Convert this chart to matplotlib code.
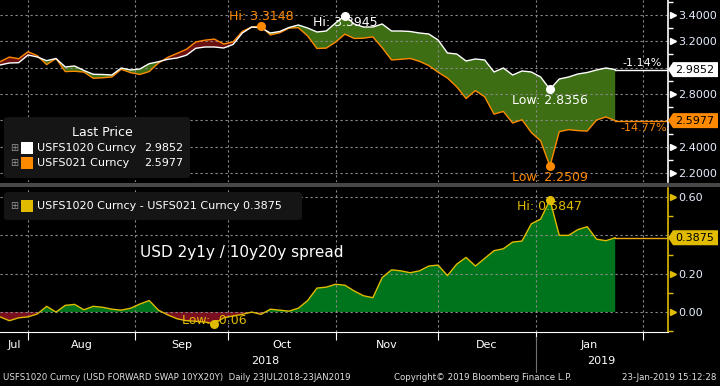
import matplotlib
matplotlib.use('Agg')
import matplotlib.pyplot as plt
from matplotlib.patches import Polygon, Rectangle, FancyBboxPatch
from matplotlib.lines import Line2D
import numpy as np

# indice de pregoes desde 23/07/2018 (um ponto a cada dois pregoes)
dias = list(range(1, 134, 2))

# USFS1020 Curncy (10y20y)
usfs1020 = [3.0203, 3.0355, 3.0378, 3.0963, 3.0811, 3.0530, 3.0697, 3.0052, 3.0128, 2.9786,
            2.9497, 2.9482, 2.9444, 2.9976, 2.9824, 2.9900, 3.0302, 3.0454, 3.0636, 3.0735,
            3.0948, 3.1472, 3.1570, 3.1570, 3.1494, 3.1760, 3.2633, 3.3089, 3.3028, 3.2633,
            3.2747, 3.3051, 3.3241, 3.3013, 3.2709, 3.2785, 3.3393, 3.3945, 3.3317, 3.3089,
            3.3089, 3.3317, 3.2785, 3.2785, 3.2747, 3.2633, 3.2557, 3.2102, 3.1115, 3.1039,
            3.0507, 3.0659, 3.0583, 2.9672, 2.9976, 2.9444, 2.9748, 2.9672, 2.9292, 2.8356,
            2.9140, 2.9292, 2.9520, 2.9634, 2.9824, 2.9976, 2.9852]

# USFS021 Curncy (2y1y)
usfs021 = [3.0453, 3.0805, 3.0678, 3.1213, 3.0911, 3.0230, 3.0697, 2.9702, 2.9728, 2.9666,
           2.9197, 2.9232, 2.9294, 2.9876, 2.9624, 2.9480, 2.9702, 3.0354, 3.0786, 3.1085,
           3.1398, 3.1952, 3.2090, 3.2170, 3.1794, 3.1960, 3.2753, 3.3089, 3.3148, 3.2483,
           3.2647, 3.3001, 3.3041, 3.2413, 3.1459, 3.1485, 3.1943, 3.2545, 3.2217, 3.2239,
           3.2339, 3.1517, 3.0585, 3.0635, 3.0697, 3.0483, 3.0157, 2.9652, 2.9215, 2.8539,
           2.7657, 2.8259, 2.7783, 2.6472, 2.6676, 2.5794, 2.6048, 2.5072, 2.4442, 2.2509,
           2.5140, 2.5292, 2.5220, 2.5184, 2.6024, 2.6256, 2.5977]

meses = ['Jul', 'Aug', 'Sep', 'Oct', 'Nov', 'Dec', 'Jan']
meio_mes = [4, 18.5, 40, 61.5, 84, 105.5, 127.5]
inicio_mes = [7, 30, 50, 73, 95, 116, 139]
anos = ['2018', '2019']
pos_anos = [58, 130]

variacao = ['-1.14%', '-14.77%']

# cores
laranja = '#ff8a00'
amarelo = '#e0bb00'
verde_sup = '#3d6e14'
vermelho_sup = '#6a1010'
verde_inf = '#00741c'
vermelho_inf = '#7a0f1f'
cor_grade = '#8c8c8c'
cor_rotulo = '#e8eeff'

W_PX, H_PX = 720, 386
x_min, x_max = 0.99, 144.33

w = np.array(usfs1020)
o = np.array(usfs021)
spread = w - o
x = np.array(dias)


def fx(px):
    return px / W_PX


def fy(py):
    return 1 - py / H_PX


fig = plt.figure(figsize=(7.2, 3.86), dpi=100, facecolor='black')
ax1 = fig.add_axes([0, fy(182), fx(668), 182 / H_PX])
ax2 = fig.add_axes([0, fy(332), fx(668), 144 / H_PX])


def estilo(ax, cor_eixo, ticks, rotulos, minor):
    ax.set_facecolor('black')
    for lado in ['left', 'top', 'bottom']:
        ax.spines[lado].set_visible(False)
    ax.spines['right'].set_color(cor_eixo)
    ax.spines['right'].set_linewidth(1.2)
    ax.yaxis.tick_right()
    ax.set_xlim(x_min, x_max)
    ax.set_xticks(inicio_mes)
    ax.set_yticks(ticks)
    ax.set_yticklabels(rotulos)
    ax.set_yticks(minor, minor=True)
    ax.grid(True, color=cor_grade, linestyle=(0, (2, 2.5)), linewidth=0.8)
    ax.tick_params(axis='y', which='major', length=0, pad=7.5, labelsize=8, labelcolor=cor_rotulo)
    ax.tick_params(axis='y', which='minor', length=3.5, color=cor_eixo, width=1)
    ax.tick_params(axis='x', which='both', length=0, labelbottom=False)
    marcados = [t for t, r in zip(ticks, rotulos) if r]
    ax.plot([1.007] * len(marcados), marcados, '>', ms=5, color=cor_eixo,
            transform=ax.get_yaxis_transform(), clip_on=False)


estilo(ax1, 'white', [2.2, 2.4, 2.6, 2.8, 3.0, 3.2, 3.4],
       ['2.2000', '2.4000', '', '2.8000', '', '3.2000', '3.4000'],
       [2.3, 2.5, 2.7, 2.9, 3.1, 3.3, 3.5])
ax1.set_ylim(2.1317, 3.5139)

estilo(ax2, amarelo, [0.0, 0.2, 0.4, 0.6], ['0.00', '0.20', '', '0.60'],
       [-0.1, 0.1, 0.3, 0.5])
ax2.set_ylim(-0.1039, 0.6468)
ax2.spines['bottom'].set_visible(True)
ax2.spines['bottom'].set_color('white')
ax2.tick_params(axis='x', which='major', length=6, color='white', direction='out')
ax2.set_xticks(meio_mes, minor=True)
ax2.set_xticklabels(meses, minor=True)
ax2.tick_params(axis='x', which='minor', length=0, pad=6, labelbottom=True,
                labelsize=8, labelcolor='white')

# painel de cima: as duas taxas
ax1.fill_between(x, w, o, where=w >= o, interpolate=True, color=verde_sup, lw=0)
ax1.fill_between(x, w, o, where=w < o, interpolate=True, color=vermelho_sup, lw=0)
ax1.plot(x, o, color=laranja, lw=1.0)
ax1.plot(x, w, color='white', lw=1.0)
ax1.plot([x[-1], x_max], [w[-1], w[-1]], color='white', lw=1)
ax1.plot([x[-1], x_max], [o[-1], o[-1]], color=laranja, lw=1)

# painel de baixo: spread
ax2.fill_between(x, spread, 0, where=spread >= 0, interpolate=True, color=verde_inf, lw=0)
ax2.fill_between(x, spread, 0, where=spread < 0, interpolate=True, color=vermelho_inf, lw=0)
ax2.plot(x, spread, color=amarelo, lw=1)
ax2.plot([x[-1], x_max], [spread[-1], spread[-1]], color='#e8a818', lw=1)


def marca(ax, i, v, texto, cor, dy):
    ax.plot(x[i], v, 'o', ms=5.5, color=cor, clip_on=False, zorder=5)
    ax.annotate(texto, (x[i], v), xytext=(0, dy), textcoords='offset points',
                ha='center', va='center', color=cor, fontsize=9, annotation_clip=False, zorder=6)


marca(ax1, np.argmax(o), o.max(), 'Hi: %.4f' % o.max(), laranja, 7)
marca(ax1, np.argmax(w), w.max(), 'Hi: %.4f' % w.max(), 'white', -5)
marca(ax1, np.argmin(w), w.min(), 'Low: %.4f' % w.min(), 'white', -8)
marca(ax1, np.argmin(o), o.min(), 'Low: %.4f' % o.min(), laranja, -8)
marca(ax2, np.argmax(spread), spread.max(), 'Hi: %.4f' % spread.max(), amarelo, -5)
marca(ax2, np.argmin(spread), spread.min(), 'Low: %.2f' % spread.min(), amarelo, 2)


# caixinhas do ultimo valor no eixo da direita
def caixa_valor(ax, valor, texto, cor_fundo):
    y = ax.transData.transform((x_min, valor))[1]
    pts = [(668, y), (673, y + 7.5), (718, y + 7.5), (718, y - 7.5), (673, y - 7.5)]
    fig.add_artist(Polygon([(px / W_PX, py / H_PX) for px, py in pts], closed=True,
                           transform=fig.transFigure, facecolor=cor_fundo, edgecolor='none'))
    fig.text(fx(695), y / H_PX, texto, ha='center', va='center', color='black', fontsize=8)
    return y


y_w = caixa_valor(ax1, w[-1], '%.4f' % w[-1], 'white')
y_o = caixa_valor(ax1, o[-1], '%.4f' % o[-1], laranja)
caixa_valor(ax2, spread[-1], '%.4f' % spread[-1], amarelo)
fig.text(fx(662), (y_w + 7) / H_PX, variacao[0], ha='right', va='center', color='white', fontsize=8)
fig.text(fx(667), (y_o - 7) / H_PX, variacao[1], ha='right', va='center', color=laranja, fontsize=8)

# barra separadora entre os paineis
fig.add_artist(Rectangle((0, fy(187)), 1, 4 / H_PX, transform=fig.transFigure,
                         facecolor='#484848', edgecolor='none'))


# legendas
def caixa(x0, y0, x1, y1):
    fig.add_artist(FancyBboxPatch((fx(x0), fy(y1)), (x1 - x0) / W_PX, (y1 - y0) / H_PX,
                                  boxstyle='round,pad=0,rounding_size=0.006',
                                  transform=fig.transFigure, facecolor='#151515',
                                  edgecolor='none'))


def linha_legenda(y, cor, texto, valor=None, xval=183):
    fig.text(fx(14), fy(y), '\u229e', ha='center', va='center', color='#909090', fontsize=7)
    fig.add_artist(Rectangle((fx(21), fy(y + 6)), 12 / W_PX, 12 / H_PX,
                             transform=fig.transFigure, facecolor=cor, edgecolor='none'))
    fig.text(fx(37), fy(y), texto, va='center', color='white', fontsize=8)
    if valor is not None:
        fig.text(fx(xval), fy(y), valor, ha='right', va='center', color='white', fontsize=8)


caixa(4, 117, 190, 178)
fig.text(fx(102), fy(133), 'Last Price', ha='center', va='center', color='white', fontsize=9)
linha_legenda(148, 'white', 'USFS1020 Curncy', '%.4f' % w[-1])
linha_legenda(163, laranja, 'USFS021 Curncy', '%.4f' % o[-1])

caixa(4, 192, 302, 220)
linha_legenda(206, amarelo, 'USFS1020 Curncy - USFS021 Curncy %.4f' % spread[-1])

fig.text(fx(140), fy(252), 'USD 2y1y / 10y20y spread', va='center', color='white', fontsize=11)

# anos e separador de ano
for ano, p in zip(anos, pos_anos):
    xp = ax2.transData.transform((p, 0))[0]
    fig.text(xp / W_PX, fy(361), ano, ha='center', va='center', color='white', fontsize=8)
xs = ax2.transData.transform((inicio_mes[5], 0))[0] / W_PX
fig.add_artist(Line2D([xs, xs], [fy(337), fy(372)], transform=fig.transFigure,
                      color='#707070', lw=0.8))

# rodape
fig.text(fx(3), fy(378), 'USFS1020 Curncy (USD FORWARD SWAP 10YX20Y)  Daily 23JUL2018-23JAN2019',
         va='center', color='#e0e0e0', fontsize=6.2)
fig.text(fx(483), fy(378), 'Copyright\u00a9 2019 Bloomberg Finance L.P.', ha='center',
         va='center', color='#e0e0e0', fontsize=6.2)
fig.text(fx(716), fy(378), '23-Jan-2019 15:12:28', ha='right', va='center',
         color='#e0e0e0', fontsize=6.2)

fig.savefig('out.png', dpi=100, facecolor='black')
